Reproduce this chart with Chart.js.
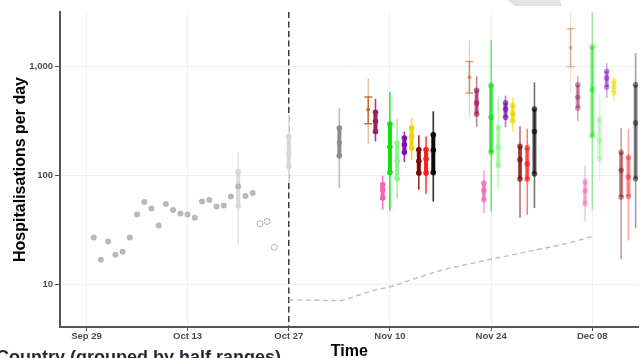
<!DOCTYPE html>
<html>
<head>
<meta charset="utf-8">
<script src="https://cdn.jsdelivr.net/npm/chart.js@4.4.1/dist/chart.umd.min.js"></script>
<style>
  html, body { margin: 0; padding: 0; background: #ffffff; }
  #wrap { width: 644px; height: 358px; position: relative; overflow: hidden; }
</style>
</head>
<body>
<div id="wrap"><canvas id="chart" width="644" height="358"></canvas></div>
<script>
// Days are counted from Sep 29.
const xTickDays   = [0, 14, 28, 42, 56, 70];
const xTickLabels = ['Sep 29', 'Oct 13', 'Oct 27', 'Nov 10', 'Nov 24', 'Dec 08'];
const yTickValues = [10, 100, 1000];
const yTickLabels = ['10', '100', '1,000'];
const xMin = -3.66, xMax = 76.4;
const yMin = 4.07, yMax = 3130;

// Reported hospitalisations per day, Sep 30 to Oct 22
const reportedFirstDay = 1;
const reported = [26.9, 16.8, 24.7, 18.7, 19.9, 26.9, 43.7, 56.8, 49.6, 34.6, 54.4, 48, 44.6,
                  43.7, 40.8, 57.5, 59.2, 51.7, 52.8, 63.9, 78.9, 64.5, 68.7];
// Provisional (incomplete) days, Oct 23 to Oct 25
const provisionalFirstDay = 24;
const provisional = [35.9, 37.7, 21.8];

// Intervals: [lower whisker, box low, median, box high, upper whisker]
const pastDays = [21, 28, 35];
const pastIntervals = [
  [23, 52.5, 78.9, 108, 165],
  [85, 120, 160, 227, 359],
  [76, 151, 200, 271, 414]
];
const pastBoxColors     = ['#d9d9d9', '#d6d6d6', '#8c8c8c'];
const pastWhiskerColors = ['#e2e2e2', '#dddddd', '#bdbdbd'];

// Forecast horizons (Nov 10, Nov 24, Dec 08) and each series' day offset around them
const horizonDays   = [42, 56, 70];
const horizonAlpha  = [1, 0.68, 0.45];
const seriesOffsets = [-3, -2, -1, 0, 1, 2, 3, 4, 5, 6];
const seriesColors  = ['#c27330', '#9e1f5e', '#f564ad', '#11e011', '#8cf48c',
                       '#8010a8', '#ecd800', '#7c0808', '#ff1c1c', '#0a0a0a'];

const forecastBrown      = [[193, 297, 399, 521, 768], [346, 568, 792, 1099, 1726], [568, 984, 1469, 2193, 3500]];
const forecastMaroon     = [[204, 252, 312, 377, 503], [277, 364, 460, 600, 805], [312, 414, 518, 676, 805]];
const forecastPink       = [[48.2, 61.8, 73.6, 81.8, 99], [45, 59.6, 72.6, 84.8, 111], [37.7, 54.8, 72.1, 87.7, 122]];
const forecastGreen      = [[47.2, 106, 182, 295, 579], [46.6, 163, 339, 667, 1726], [48.2, 230, 608, 1500, 3500]];
const forecastLightGreen = [[60.8, 92.9, 134, 197, 328], [74.6, 123, 180, 275, 525], [87.7, 141, 208, 328, 548]];
const forecastPurple     = [[132, 162, 190, 219, 252], [275, 339, 405, 460, 536], [511, 644, 779, 896, 1069]];
const forecastYellow     = [[139, 178, 227, 271, 335], [252, 312, 366, 437, 521], [475, 568, 644, 726, 805]];
const forecastDarkRed    = [[73.6, 105, 134, 171, 232], [40.7, 92.3, 139, 184, 281], [17, 63.1, 111, 162, 271]];
const forecastRed        = [[67.6, 105, 141, 171, 227], [43.5, 92.3, 127, 178, 267], [25.2, 63.9, 96.2, 147, 265]];
const forecastBlack      = [[57.5, 106, 169, 235, 385], [50, 103, 252, 405, 710], [32.8, 92.9, 301, 676, 1321]];

// Reference trajectory from Oct 27 onwards
const baselineDays   = [28, 32, 35, 37, 40, 42, 46, 49, 53, 56, 60, 63, 67, 70];
const baselineValues = [7.2, 7.15, 7.1, 7.7, 8.9, 9.5, 11.6, 13.4, 15.4, 17.0, 19.3, 21.2, 24.2, 27.5];

// Forecast date marker
const forecastDay = 28;

const forecasts = [forecastBrown, forecastMaroon, forecastPink, forecastGreen, forecastLightGreen,
                   forecastPurple, forecastYellow, forecastDarkRed, forecastRed, forecastBlack];

const FONT = '"Liberation Sans", Arial, Helvetica, sans-serif';

function rgba(hex, a) {
  const n = parseInt(hex.slice(1), 16);
  return `rgba(${(n >> 16) & 255},${(n >> 8) & 255},${n & 255},${a})`;
}

const datasets = [];

// One interval glyph set: whisker bar, box bar, box-end marks and median mark
function addIntervals(days, quants, boxColors, whiskerColors, style) {
  datasets.push({
    type: 'bar', grouped: false, order: 4,
    data: days.map((d, i) => ({ x: d, y: [quants[i][0], quants[i][4]] })),
    backgroundColor: whiskerColors, borderWidth: 0, inflateAmount: 0,
    barThickness: style.whiskerWidth
  });
  datasets.push({
    type: 'bar', grouped: false, order: 3,
    data: days.map((d, i) => ({ x: d, y: [quants[i][1], quants[i][3]] })),
    backgroundColor: boxColors, borderWidth: 0, inflateAmount: 0,
    barThickness: style.boxWidth
  });
  const endColors = boxColors.flatMap(c => [c, c]);
  datasets.push({
    type: 'scatter', order: 2,
    data: days.flatMap((d, i) => [{ x: d, y: quants[i][1] }, { x: d, y: quants[i][3] }]),
    pointStyle: style.capStyle, pointRadius: style.capRadius, pointHoverRadius: style.capRadius,
    pointBackgroundColor: endColors, pointBorderColor: endColors,
    pointBorderWidth: style.capStyle === 'line' ? 1.5 : 0
  });
  datasets.push({
    type: 'scatter', order: 2,
    data: days.map((d, i) => ({ x: d, y: quants[i][2] })),
    pointStyle: 'circle', pointRadius: style.medRadius, pointHoverRadius: style.medRadius,
    pointBackgroundColor: boxColors, pointBorderWidth: 0
  });
}

// Reported points
datasets.push({
  type: 'scatter', order: 0,
  data: reported.map((v, i) => ({ x: reportedFirstDay + i, y: v })),
  pointRadius: 3, pointHoverRadius: 3, pointBackgroundColor: '#b6babe', pointBorderWidth: 0
});
datasets.push({
  type: 'scatter', order: 0,
  data: provisional.map((v, i) => ({ x: provisionalFirstDay + i, y: v })),
  pointRadius: 3, pointHoverRadius: 3, pointBackgroundColor: '#ffffff',
  pointBorderColor: '#b3b3b3', pointBorderWidth: 1
});

// Earlier estimates
addIntervals(pastDays, pastIntervals, pastBoxColors, pastWhiskerColors,
  { whiskerWidth: 1.6, boxWidth: 4, capStyle: 'circle', capRadius: 2.8, medRadius: 2.6 });

// Forecasts by series
forecasts.forEach((series, s) => {
  const base = seriesColors[s];
  const days = horizonDays.map(h => h + seriesOffsets[s]);
  const boxColors = horizonAlpha.map(a => rgba(base, a));
  const isCapped = s === 0;
  const whiskerColors = horizonAlpha.map(a => rgba(base, a * (isCapped ? 0.5 : 0.85)));
  addIntervals(days, series, boxColors, whiskerColors, isCapped
    ? { whiskerWidth: 1.3, boxWidth: 1.5, capStyle: 'line', capRadius: 4, medRadius: 2 }
    : { whiskerWidth: 1.6, boxWidth: 4, capStyle: 'circle', capRadius: 2.8, medRadius: 2.8 });
});

// Reference trajectory
datasets.push({
  type: 'line', order: 7,
  data: baselineDays.map((d, i) => ({ x: d, y: baselineValues[i] })),
  borderColor: '#bdbdbd', borderWidth: 1.4, borderDash: [5, 3.5],
  pointRadius: 0, cubicInterpolationMode: 'monotone', fill: false
});

// Forecast date marker
datasets.push({
  type: 'line', order: 8,
  data: [{ x: forecastDay, y: yMax }, { x: forecastDay, y: yMin }],
  borderColor: '#3c3c3c', borderWidth: 1.5, borderDash: [6, 3.5],
  pointRadius: 0, fill: false
});

const pageText = {
  id: 'pageText',
  afterDraw(chart) {
    const ctx = chart.ctx;
    ctx.save();
    ctx.fillStyle = '#e2e2e2';
    ctx.beginPath();
    ctx.moveTo(507, 0); ctx.lineTo(560, 0); ctx.lineTo(562, 6); ctx.lineTo(515, 6);
    ctx.closePath();
    ctx.fill();
    ctx.fillStyle = '#1e2a36';
    ctx.font = 'bold 18px ' + FONT;
    ctx.textBaseline = 'alphabetic';
    ctx.textAlign = 'left';
    ctx.fillText('Country (grouped by half ranges)', -4, 363);
    ctx.restore();
  }
};

new Chart(document.getElementById('chart'), {
  type: 'scatter',
  data: { datasets },
  plugins: [pageText],
  options: {
    responsive: false,
    animation: false,
    devicePixelRatio: 1,
    events: [],
    layout: { padding: { top: 12, left: 0, right: 0, bottom: 0 } },
    plugins: { legend: { display: false }, tooltip: { enabled: false } },
    scales: {
      x: {
        type: 'linear', min: xMin, max: xMax, offset: false,
        afterFit: s => { s.height = 31; },
        afterBuildTicks: s => { s.ticks = xTickDays.map(v => ({ value: v })); },
        grid: { color: '#efefef', lineWidth: 1, offset: false, tickColor: '#555555', tickLength: 4, tickWidth: 1 },
        border: { color: '#555555', width: 2 },
        ticks: {
          autoSkip: false, maxRotation: 0, padding: 0, color: '#4d4d4d',
          font: { family: FONT, size: 9.5, weight: 'bold' },
          callback: (v, i) => xTickLabels[i]
        },
        title: {
          display: true, text: 'Time', color: '#000000',
          font: { family: FONT, size: 16, weight: 'bold', lineHeight: 0.8 },
          padding: { top: 0, bottom: 0 }
        }
      },
      y: {
        type: 'logarithmic', min: yMin, max: yMax,
        afterFit: s => { s.width = 60; },
        afterBuildTicks: s => { s.ticks = yTickValues.map(v => ({ value: v })); },
        grid: { color: '#efefef', lineWidth: 1, tickColor: '#555555', tickLength: 5, tickWidth: 1 },
        border: { color: '#555555', width: 2 },
        ticks: {
          autoSkip: false, padding: 2, color: '#4d4d4d',
          font: { family: FONT, size: 9.5, weight: 'bold' },
          callback: (v, i) => yTickLabels[i]
        },
        title: {
          display: true, text: 'Hospitalisations per day', color: '#000000',
          font: { family: FONT, size: 16, weight: 'bold', lineHeight: 1.2 },
          padding: { top: 11, bottom: 0 }
        }
      }
    }
  }
});
</script>
</body>
</html>
